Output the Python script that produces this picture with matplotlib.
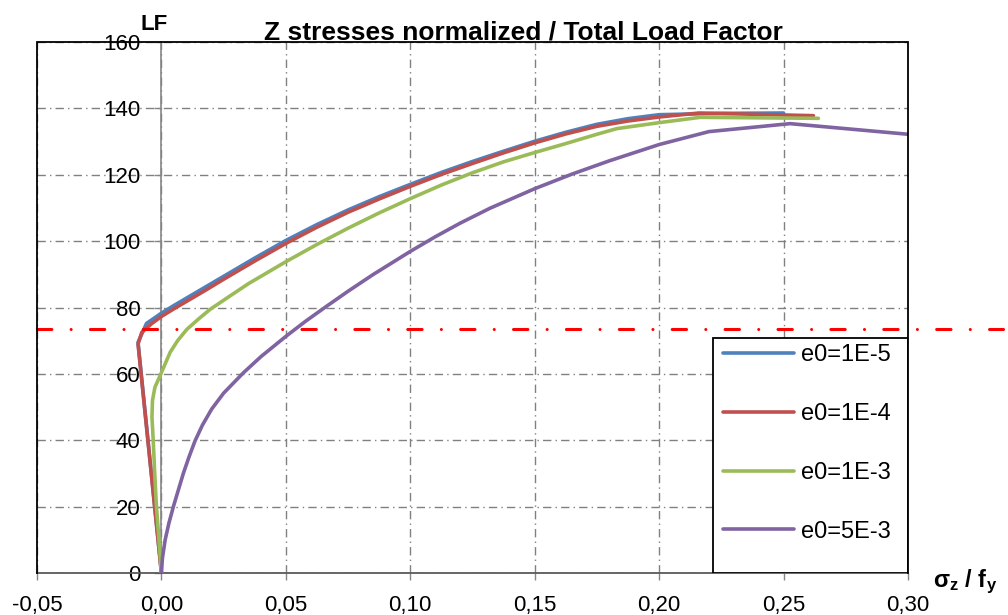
import matplotlib
matplotlib.use("Agg")
import matplotlib.pyplot as plt
from matplotlib.patches import Rectangle
from matplotlib.ticker import FuncFormatter

plt.rcParams['font.family'] = ['Liberation Sans', 'DejaVu Sans']
plt.rcParams['mathtext.fontset'] = 'custom'
plt.rcParams['mathtext.rm'] = 'Liberation Sans'
plt.rcParams['mathtext.bf'] = 'Liberation Sans:bold'
plt.rcParams['mathtext.it'] = 'Liberation Sans:italic'

# ---------------- data ----------------
labels = ["e0=1E-5", "e0=1E-4", "e0=1E-3", "e0=5E-3"]
colors = ["#4F81BD", "#C0504D", "#9BBB59", "#8064A2"]

x_e5 = [0.0, -0.0094, -0.0060, 0.0, 0.005, 0.010, 0.0175, 0.025, 0.0375, 0.050, 0.0625, 0.075,
        0.0875, 0.100, 0.1125, 0.125, 0.1375, 0.150, 0.1625, 0.175, 0.1875, 0.200, 0.225, 0.250]
y_e5 = [0.0, 69.5, 75.2, 78.3, 80.6, 82.8, 86.1, 89.4, 94.9, 100.2, 105.0, 109.4,
        113.4, 117.1, 120.7, 124.0, 127.1, 130.1, 132.8, 135.2, 136.9, 138.1, 138.5, 138.6]

x_e4 = [0.0, -0.0094, -0.0079, -0.004, 0.0, 0.005, 0.010, 0.0175, 0.025, 0.0375, 0.050, 0.0625,
        0.075, 0.0875, 0.100, 0.1125, 0.125, 0.1375, 0.150, 0.1625, 0.175, 0.1875, 0.200, 0.216, 0.262]
y_e4 = [0.0, 69.0, 72.5, 75.1, 77.3, 79.6, 81.8, 85.1, 88.5, 94.0, 99.3, 104.2,
        108.7, 112.7, 116.5, 120.1, 123.4, 126.6, 129.6, 132.3, 134.6, 136.2, 137.4, 138.6, 137.8]

x_e3 = [0.0, -0.0010, -0.0020, -0.0027, -0.0033, -0.0038, -0.0036, -0.0026, -0.0008, 0.0012, 0.0035,
        0.0065, 0.0102, 0.015, 0.0195, 0.027, 0.035, 0.050, 0.0625, 0.075, 0.0875, 0.100, 0.1125,
        0.125, 0.1375, 0.150, 0.1625, 0.175, 0.183, 0.200, 0.2165, 0.264]
y_e3 = [0.0, 10.0, 20.0, 30.0, 40.0, 47.0, 52.0, 56.0, 59.0, 62.5, 66.5,
        70.0, 73.4, 76.6, 79.4, 83.2, 87.2, 93.8, 99.0, 103.9, 108.5, 112.8, 116.9,
        120.6, 123.9, 126.7, 129.4, 132.2, 133.9, 135.7, 137.3, 137.0]

x_5e3 = [0.0, 0.0004, 0.0015, 0.0030, 0.0048, 0.0068, 0.0088, 0.0110, 0.0135, 0.0165, 0.0202, 0.0250,
         0.0329, 0.0400, 0.0500, 0.0580, 0.0664, 0.0750, 0.0850, 0.1000, 0.1100, 0.1200, 0.1320,
         0.1500, 0.1650, 0.1800, 0.2000, 0.2200, 0.2526, 0.3000]
y_5e3 = [0.0, 4.5, 10.0, 15.0, 20.0, 25.0, 30.0, 34.8, 39.8, 44.6, 49.4, 54.2,
         60.3, 65.2, 71.3, 75.9, 80.4, 84.9, 89.9, 96.9, 101.3, 105.4, 109.9,
         115.8, 120.2, 124.2, 129.1, 133.0, 135.4, 132.2]

lf_ref = 73.6
ref_x = [-0.05, 0.338]

x_ticks = [-0.05, 0.00, 0.05, 0.10, 0.15, 0.20, 0.25, 0.30]
y_ticks = [0, 20, 40, 60, 80, 100, 120, 140, 160]

title = "Z stresses normalized / Total Load Factor"

# ---------------- figure ----------------
W, H = 1008, 615
fig = plt.figure(figsize=(W / 100, H / 100), dpi=100)
ax = fig.add_axes([37 / W, 42 / H, 871 / W, 531 / H])

ax.set_xlim(-0.05, 0.30)
ax.set_ylim(0, 160)
ax.set_xticks(x_ticks)
ax.set_yticks(y_ticks)
ax.xaxis.set_major_formatter(FuncFormatter(lambda v, p: f"{v:.2f}".replace(".", ",").replace("-0,00", "0,00")))
ax.yaxis.set_major_formatter(FuncFormatter(lambda v, p: f"{int(round(v))}"))

# grid
ax.grid(True, color="#808080", linewidth=1.0, linestyle=(0, (6, 3, 1, 3)))
ax.set_axisbelow(True)

# spines
for s in ["top", "right"]:
    ax.spines[s].set_visible(False)
ax.spines["left"].set_position(("data", 0))
ax.spines["left"].set_color("#868686")
ax.spines["left"].set_linewidth(1.2)
ax.spines["bottom"].set_color("#5a5a5a")
ax.spines["bottom"].set_linewidth(1.3)

# black frame (left, top, right)
ax.plot([0, 0, 1, 1], [0, 1, 1, 0], transform=ax.transAxes, color="black",
        linewidth=1.3, clip_on=False, zorder=6, solid_joinstyle="miter")

ax.tick_params(axis="both", colors="#868686", labelcolor="black", labelsize=16,
               direction="out", length=5, width=1.0)
ax.tick_params(axis="x", pad=11)
ax.tick_params(axis="y", pad=10)

# series
xs = [x_e5, x_e4, x_e3, x_5e3]
ys = [y_e5, y_e4, y_e3, y_5e3]
handles = []
for xv, yv, c, lab in zip(xs, ys, colors, labels):
    h, = ax.plot(xv, yv, color=c, linewidth=2.6, label=lab,
                 solid_joinstyle="round", solid_capstyle="round", zorder=3)
    handles.append(h)

# red reference dash-dot line
ref, = ax.plot(ref_x, [lf_ref, lf_ref], color="#FF0000", linewidth=2.2,
               clip_on=False, zorder=4, dash_capstyle="round")
ref.set_dashes([4.7, 6.3, 0.01, 6.3])

# legend frame + legend
ax.add_patch(Rectangle((713 / W, (H - 573) / H), 195 / W, 235 / H, transform=fig.transFigure,
                       facecolor="white", edgecolor="black", linewidth=1.3, zorder=4.5))
leg = ax.legend(handles=handles, loc="upper left", bbox_to_anchor=(720.5 / W, 1 - 341.5 / H),
                bbox_transform=fig.transFigure, frameon=False, fontsize=17,
                handlelength=3.0, handletextpad=0.3, labelspacing=1.565,
                borderpad=0.1, borderaxespad=0)
leg.set_zorder(5)
for l in leg.get_lines():
    l.set_linewidth(2.6)

# texts
fig.text(523 / W, 1 - 39.5 / H, title, ha="center", va="baseline",
         fontsize=19, fontweight="bold")
fig.text(154 / W, 1 - 29.5 / H, "LF", ha="center", va="baseline",
         fontsize=16, fontweight="bold")
fig.text(933 / W, 1 - 587 / H, r"$\mathbf{σ_z\ /\ f_y}$", ha="left", va="baseline",
         fontsize=17)

fig.savefig("out.png", dpi=100)
